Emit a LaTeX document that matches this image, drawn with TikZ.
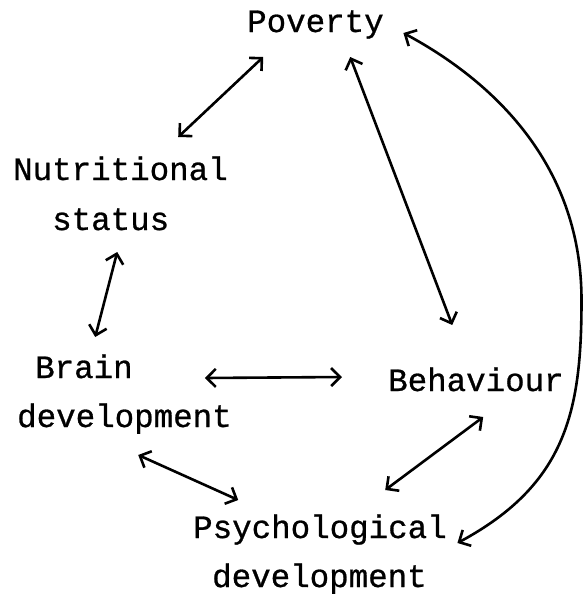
\documentclass[tikz,border=0pt]{standalone}
\usepackage{fontspec}
\setmainfont[FakeBold=0.8]{Liberation Mono}
\usetikzlibrary{arrows.meta,calc}
\begin{document}
\begin{tikzpicture}[x=1pt,y=-1pt,
  lbl/.style={anchor=base west, inner sep=0pt, font=\fontsize{32.5}{50}\selectfont},
  link/.style={line width=2.6pt, line cap=round, line join=round,
    {Straight Barb[length=9pt,width=18pt]}-{Straight Barb[length=9pt,width=18pt]}}]
\useasboundingbox (0,0) rectangle (584,603);
\node[lbl] (pov)    at (247,32)  {Poverty};
\node[lbl] (nut)    at (13,180)  {Nutritional};
\node[lbl] (nuts)   at (52,230)  {status};
\node[lbl] (brain)  at (35,378)  {Brain};
\node[lbl] (brainb) at (17,427)  {development};
\node[lbl] (beh)    at (388,391) {Behaviour};
\node[lbl] (psy)    at (193,538) {Psychological};
\node[lbl] (psyb)   at (212,587) {development};
\coordinate (bend) at (581.5,300);
\draw[link] ($(nut.base)+(57.75,-43)$) -- ($(pov.base)+(-52.25,25)$);
\draw[link] ($(nuts.base)+(6.5,22)$) -- ($(brain.base)+(11.25,-41)$);
\draw[link] ($(pov.base)+(34.75,25)$) -- ($(beh.base)+(-23.75,-66)$);
\draw[link] ($(brain.base east)+(72,0)$) -- ($(beh.base west)+(-46,-14)$);
\draw[link] ($(brainb.base)+(13.75,28)$) -- ($(psy.base)+(-81.75,-38)$);
\draw[link] ($(beh.base)+(7.25,26)$) -- ($(psy.base)+(65.25,-48)$);
\draw[link] ($(pov.base east)+(19.5,1)$) .. controls (500,85) and (581.5,170) .. (bend)
  .. controls (581.5,410) and (567,484) .. ($(psy.base east)+(10.5,5)$);
\end{tikzpicture}
\end{document}
